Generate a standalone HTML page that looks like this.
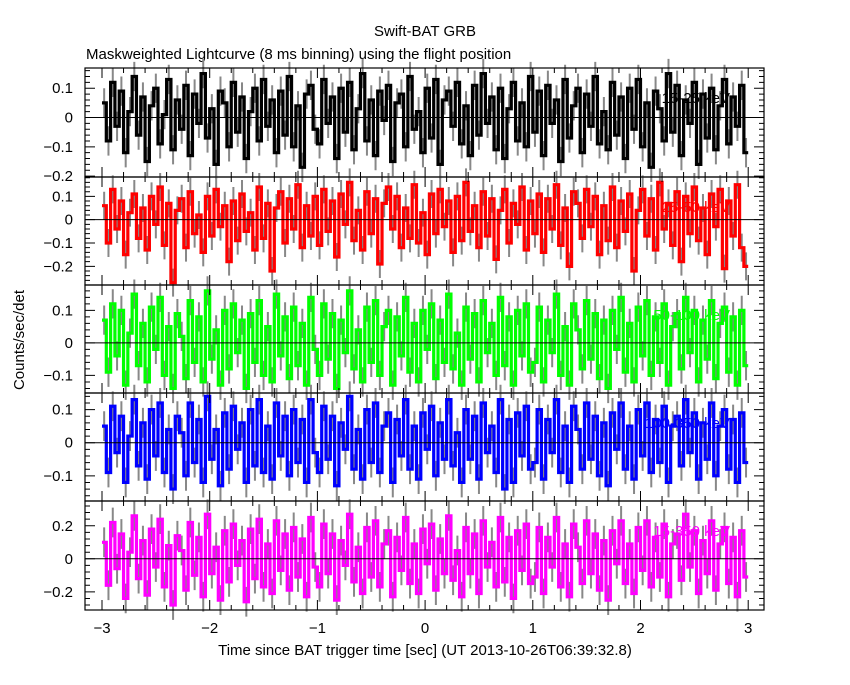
<!DOCTYPE html>
<html><head><meta charset="utf-8"><style>
body{margin:0;background:#fff}
svg text{font-family:"Liberation Sans",sans-serif;font-size:15px}
</style></head><body>
<svg id="c" width="850" height="680" xmlns="http://www.w3.org/2000/svg">
<text x="425" y="36" text-anchor="middle">Swift-BAT GRB</text>
<text x="86" y="59">Maskweighted Lightcurve (8 ms binning) using the flight position</text>
<text transform="translate(24,340) rotate(-90)" text-anchor="middle">Counts/sec/det</text>
<text x="425" y="655" text-anchor="middle">Time since BAT trigger time [sec] (UT 2013-10-26T06:39:32.8)</text>
<g id="g"></g>
</svg>
<script>
const bandLabels=["15-25 keV","25-50 keV","50-100 keV","100-350 keV","15-350 keV"];
const bandColors=["#000000","#ff0000","#00ff00","#0000ff","#ff00ff"];
const xTicks=[-3,-2,-1,0,1,2,3];
const yTicks=[[0.1,0,-0.1,-0.2],[0.1,0,-0.1,-0.2],[0.1,0,-0.1],[0.1,0,-0.1],[0.2,0,-0.2]];
const yRanges=[[0.169,-0.203],[0.183,-0.28],[0.178,-0.154],[0.15,-0.176],[0.35,-0.31]];
const panelErr=[0.05,0.06,0.045,0.045,0.09];
const p1=[0.05,-0.08,0.12,-0.03,0.09,-0.12,0.02,0.14,-0.06,0.07,-0.15,0.04,0.10,-0.09,0.01,0.13,-0.11,0.06,-0.04,0.11,-0.13,0.08,-0.02,0.15,-0.07,0.03,-0.16,0.09,0.05,-0.10,0.12,-0.05,0.07,-0.14,0.02,0.10,-0.08,0.13,-0.03,0.06,-0.12,0.09,-0.06,0.14,-0.10,0.04,-0.17,0.08,0.11,-0.04,
-0.09,0.13,-0.02,0.07,-0.14,0.10,-0.05,0.12,-0.11,0.03,0.15,-0.08,0.06,-0.13,0.09,-0.01,0.11,-0.15,0.05,0.08,-0.10,0.14,-0.04,0.02,-0.12,0.10,-0.07,0.13,-0.16,0.06,0.09,-0.03,0.12,-0.09,0.04,-0.13,0.11,-0.06,0.15,-0.02,0.07,-0.11,0.10,-0.14,0.03,0.12,-0.08,0.05,-0.10,0.14,
-0.05,0.09,-0.13,0.11,-0.02,0.06,-0.15,0.13,-0.07,0.04,0.10,-0.12,0.08,-0.03,0.14,-0.09,0.02,-0.11,0.12,-0.06,0.07,-0.14,0.10,-0.04,0.13,-0.10,0.05,-0.17,0.09,0.03,-0.08,0.15,-0.05,0.11,-0.13,0.06,-0.02,0.12,-0.16,0.08,-0.07,0.10,-0.11,0.04,0.13,-0.09,0.07,-0.03,0.11,-0.12];
const p2=[0.06,-0.10,0.13,-0.04,0.08,-0.15,0.03,0.11,-0.08,0.05,-0.13,0.10,-0.02,0.14,-0.11,0.07,-0.27,0.04,0.09,-0.12,0.12,-0.06,0.02,-0.14,0.10,-0.07,0.13,-0.03,0.06,-0.18,0.08,-0.09,0.11,-0.05,0.03,-0.13,0.14,-0.08,0.07,-0.22,0.05,0.12,-0.10,0.09,-0.04,0.15,-0.12,0.06,-0.07,0.10,
-0.11,0.13,-0.05,0.08,-0.16,0.11,-0.02,0.16,-0.09,0.04,-0.13,0.12,-0.06,0.09,-0.19,0.07,0.14,-0.04,0.10,-0.12,0.05,-0.08,0.15,-0.10,0.03,-0.15,0.11,-0.06,0.13,-0.03,0.08,-0.14,0.10,-0.09,0.16,-0.05,0.06,-0.12,0.12,-0.07,0.09,-0.17,0.04,0.13,-0.10,0.07,-0.02,0.14,-0.13,0.08,
-0.06,0.11,-0.14,0.09,-0.04,0.15,-0.11,0.05,-0.20,0.12,0.07,-0.08,0.13,-0.03,0.10,-0.15,0.06,-0.09,0.14,-0.12,0.08,-0.05,0.11,-0.22,0.04,0.13,-0.07,0.09,-0.13,0.16,-0.04,0.07,-0.11,0.12,-0.18,0.10,-0.06,0.14,-0.09,0.05,-0.15,0.11,-0.03,0.13,-0.21,0.08,-0.07,0.15,-0.12,-0.20];
const p3=[0.07,-0.09,0.12,-0.04,0.10,-0.13,0.03,0.15,-0.07,0.06,-0.12,0.11,-0.02,0.14,-0.10,0.05,-0.14,0.09,0.02,-0.11,0.13,-0.06,0.08,-0.12,0.16,-0.05,0.04,-0.13,0.10,-0.08,0.12,-0.03,0.07,-0.14,0.09,-0.06,0.13,-0.10,0.05,-0.12,0.15,-0.04,0.08,-0.11,0.11,-0.07,0.06,-0.13,0.14,-0.02,
-0.10,0.12,-0.05,0.09,-0.14,0.07,-0.03,0.16,-0.08,0.04,-0.12,0.11,-0.06,0.13,-0.10,0.05,0.10,-0.13,0.08,-0.04,0.14,-0.09,0.06,-0.12,0.10,-0.02,0.12,-0.11,0.07,-0.06,0.15,-0.08,0.03,-0.13,0.11,-0.05,0.09,-0.12,0.13,-0.03,0.06,-0.10,0.14,-0.07,0.08,-0.13,0.10,-0.04,0.12,-0.09,
-0.06,0.11,-0.12,0.07,-0.03,0.15,-0.10,0.05,-0.13,0.12,0.04,-0.08,0.13,-0.05,0.09,-0.11,0.07,-0.14,0.10,-0.02,0.14,-0.09,0.06,-0.12,0.11,-0.04,0.13,-0.10,0.08,-0.06,0.12,-0.13,0.05,0.09,-0.08,0.14,-0.03,0.10,-0.12,0.07,-0.05,0.13,-0.11,0.06,0.11,-0.09,0.08,-0.13,0.10,-0.07];
const p4=[0.05,-0.09,0.11,-0.03,0.08,-0.12,0.02,0.13,-0.07,0.06,-0.11,0.10,-0.04,0.12,-0.09,0.04,-0.14,0.08,0.03,-0.10,0.12,-0.06,0.07,-0.12,0.14,-0.05,0.04,-0.13,0.09,-0.08,0.11,-0.02,0.06,-0.12,0.10,-0.07,0.13,-0.09,0.05,-0.11,0.12,-0.04,0.08,-0.10,0.10,-0.06,0.07,-0.12,0.13,-0.03,
-0.09,0.11,-0.05,0.08,-0.13,0.06,-0.02,0.14,-0.08,0.04,-0.11,0.10,-0.06,0.12,-0.09,0.05,0.09,-0.12,0.07,-0.04,0.13,-0.08,0.05,-0.11,0.09,-0.02,0.11,-0.10,0.06,-0.05,0.13,-0.07,0.03,-0.12,0.10,-0.05,0.08,-0.11,0.12,-0.03,0.05,-0.09,0.13,-0.14,0.07,-0.12,0.09,-0.04,0.11,-0.08,
-0.06,0.10,-0.11,0.07,-0.03,0.13,-0.09,0.05,-0.12,0.11,0.04,-0.08,0.12,-0.05,0.08,-0.10,0.06,-0.13,0.09,-0.02,0.12,-0.08,0.05,-0.11,0.10,-0.04,0.12,-0.09,0.07,-0.06,0.11,-0.12,0.05,0.08,-0.07,0.13,-0.03,0.09,-0.11,0.06,-0.05,0.12,-0.10,0.05,0.10,-0.08,0.07,-0.12,0.09,-0.06];
const p5=[0.10,-0.16,0.22,-0.06,0.15,-0.24,0.04,0.26,-0.12,0.11,-0.22,0.18,-0.05,0.24,-0.17,0.08,-0.28,0.14,0.05,-0.19,0.22,-0.10,0.13,-0.23,0.27,-0.09,0.07,-0.25,0.17,-0.14,0.21,-0.04,0.11,-0.26,0.18,-0.12,0.24,-0.17,0.09,-0.21,0.23,-0.07,0.15,-0.19,0.19,-0.11,0.12,-0.23,0.25,-0.05,
-0.17,0.21,-0.09,0.15,-0.25,0.11,-0.04,0.27,-0.14,0.07,-0.21,0.19,-0.11,0.23,-0.17,0.09,0.17,-0.23,0.13,-0.07,0.25,-0.15,0.09,-0.21,0.18,-0.03,0.21,-0.19,0.12,-0.09,0.26,-0.13,0.05,-0.23,0.19,-0.09,0.15,-0.21,0.23,-0.05,0.10,-0.17,0.25,-0.14,0.13,-0.24,0.17,-0.07,0.21,-0.15,
-0.11,0.19,-0.21,0.13,-0.05,0.25,-0.17,0.09,-0.23,0.21,0.07,-0.15,0.23,-0.09,0.15,-0.19,0.11,-0.25,0.17,-0.03,0.23,-0.15,0.09,-0.21,0.19,-0.07,0.23,-0.17,0.13,-0.11,0.21,-0.23,0.09,0.15,-0.13,0.27,-0.05,0.17,-0.21,0.11,-0.09,0.23,-0.19,0.09,0.19,-0.15,0.13,-0.23,0.17,-0.11];
const series=[p1,p2,p3,p4,p5];
const tStart=-3, tEnd=3;
const NS="http://www.w3.org/2000/svg";
const g=document.getElementById('g');
const L=85,R=764,panelTops=[68,177,285,393,501],panelBottom=610;
const xs=t=>102+(t+3)*107.7;
function mk(tag,attrs,parent){const e=document.createElementNS(NS,tag);for(const k in attrs)e.setAttribute(k,attrs[k]);(parent||g).appendChild(e);return e;}
series.forEach((vals,pi)=>{
  const top=panelTops[pi],bot=pi<4?panelTops[pi+1]:panelBottom;
  const [ymax,ymin]=yRanges[pi];
  const ys=v=>top+(ymax-v)/(ymax-ymin)*(bot-top);
  const pg=mk('g',{});
  
  
  const n=vals.length,dt=(tEnd-tStart)/n;
  let ed='',d='';
  vals.forEach((v,i)=>{
    const xm=xs(tStart+(i+0.5)*dt);
    ed+=`M${xm},${ys(v+panelErr[pi])}V${ys(v-panelErr[pi])}`;
    const x0=xs(tStart+i*dt),x1=xs(tStart+(i+1)*dt);
    d+=(i?'L':'M')+x0+','+ys(v)+'L'+x1+','+ys(v);
  });
  const eb=mk('path',{d:ed,stroke:'#888',fill:'none','stroke-width':2},pg);
  
  
  const ln=mk('path',{d:d,stroke:bandColors[pi],fill:'none','stroke-width':3.2},pg);
  
  
  const z=mk('line',{x1:L,x2:R,y1:ys(0),y2:ys(0),stroke:'#000','stroke-width':1},pg);
  
  
  const fr=mk('rect',{x:L,y:top,width:R-L,height:bot-top,fill:'none',stroke:'#000','stroke-width':1.2},pg);
  
  
  let tk='';
  const step=yTicks[pi][0]/5;
  for(let v=Math.ceil(ymin/step)*step;v<=ymax;v+=step){const y=ys(v);const major=Math.abs(v/yTicks[pi][0]-Math.round(v/yTicks[pi][0]))<1e-6;const l=major?10:5;tk+=`M${L},${y}h${l}M${R},${y}h${-l}`;}
  for(let t=-3;t<=3.15;t+=0.2){const x=xs(t);const major=Math.abs(t-Math.round(t))<1e-6;const l=major?10:5;tk+=`M${x},${top}v${l}M${x},${bot}v${-l}`;}
  mk('path',{d:tk,stroke:'#000',fill:'none'},pg);
  yTicks[pi].forEach(v=>{
    const t=mk('text',{x:L-12,y:ys(v)+5,'text-anchor':'end'},pg);
    
    
    t.textContent=v===0?'0':String(v).replace('-','\u2212');
  });
  const lb=mk('text',{x:730,y:top+35,'text-anchor':'end',fill:bandColors[pi]},pg);
  
  
  lb.textContent=bandLabels[pi];
});
xTicks.forEach(t=>{
  const e=mk('text',{x:xs(t),y:633,'text-anchor':'middle'});
  
  
  e.textContent=String(t).replace('-','\u2212');
});
</script>
</body></html>
